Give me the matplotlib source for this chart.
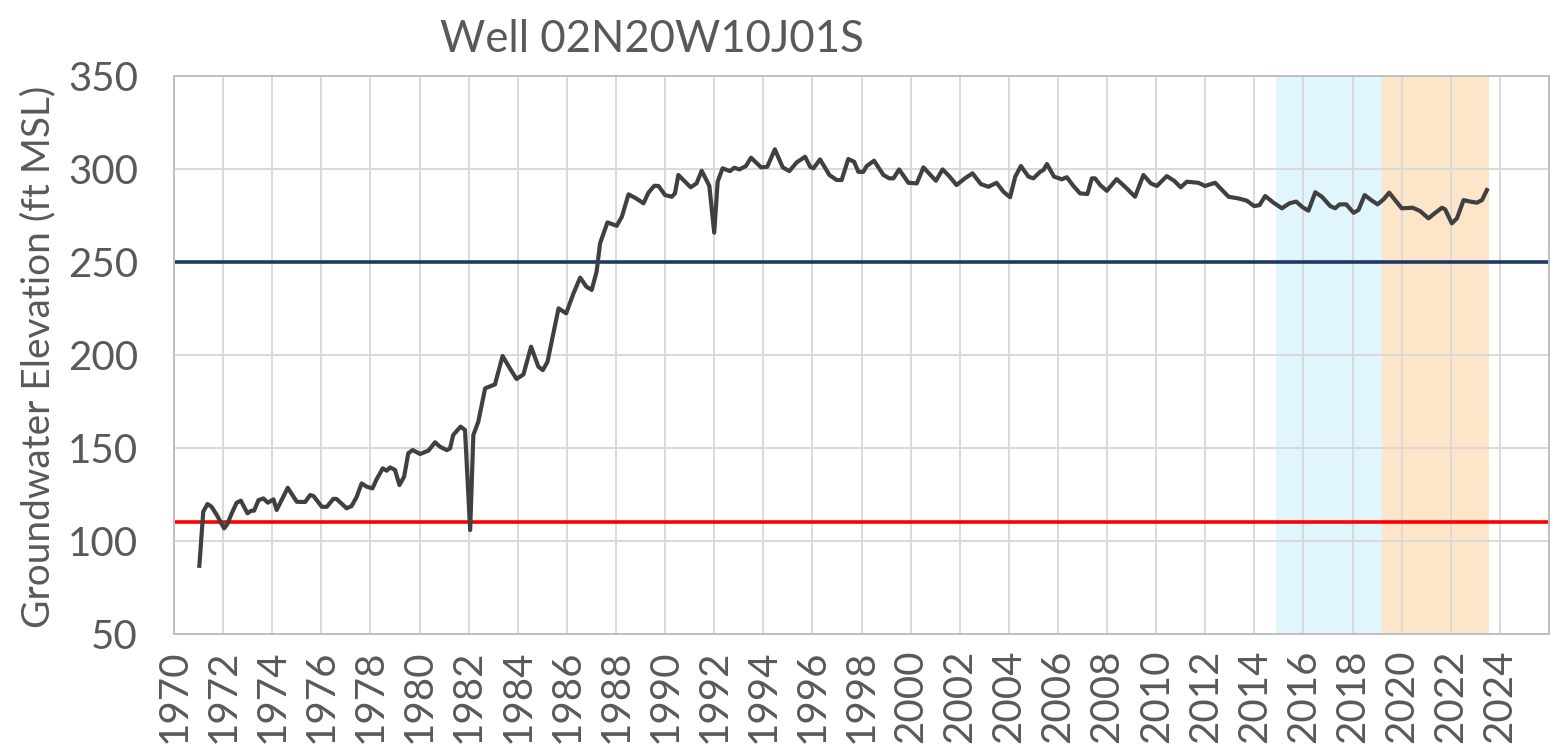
import matplotlib
matplotlib.use('Agg')
import matplotlib.pyplot as plt
import numpy as np

titulo = 'Well 02N20W10J01S'
etiqueta_y = 'Groundwater Elevation (ft MSL)'

# fecha decimal de cada medicion
fechas = [
    1971.03, 1971.19, 1971.36, 1971.53, 1971.74, 1972.04, 1972.17, 1972.35, 1972.55, 1972.72,
    1972.99, 1973.14, 1973.26, 1973.44, 1973.64, 1973.82, 1974.05, 1974.18, 1974.45, 1974.63,
    1975.00, 1975.34, 1975.54, 1975.68, 1976.02, 1976.22, 1976.49, 1976.62, 1977.03, 1977.23,
    1977.44, 1977.64, 1977.85, 1978.08, 1978.25, 1978.50, 1978.66, 1978.80, 1979.00, 1979.18,
    1979.37, 1979.54, 1979.72, 1980.02, 1980.36, 1980.63, 1980.83, 1981.11, 1981.24, 1981.37,
    1981.67, 1981.85, 1982.06, 1982.19, 1982.39, 1982.67, 1982.84, 1983.07, 1983.38, 1983.68,
    1983.95, 1984.23, 1984.54, 1984.84, 1985.02, 1985.21, 1985.45, 1985.66, 1985.97, 1986.27,
    1986.54, 1986.79, 1987.01, 1987.21, 1987.35, 1987.65, 1988.03, 1988.24, 1988.51, 1988.82,
    1989.12, 1989.32, 1989.56, 1989.73, 1990.00, 1990.27, 1990.40, 1990.54, 1990.81, 1991.04,
    1991.28, 1991.49, 1991.80, 1992.00, 1992.14, 1992.34, 1992.64, 1992.82, 1993.02, 1993.29,
    1993.50, 1993.91, 1994.16, 1994.47, 1994.79, 1995.06, 1995.36, 1995.70, 1995.91, 1996.04,
    1996.31, 1996.69, 1996.99, 1997.19, 1997.46, 1997.70, 1997.87, 1998.07, 1998.21, 1998.51,
    1998.89, 1999.13, 1999.30, 1999.53, 1999.91, 2000.25, 2000.52, 2001.03, 2001.30, 2001.57,
    2001.87, 2002.21, 2002.52, 2002.86, 2003.17, 2003.50, 2003.78, 2004.05, 2004.26, 2004.49,
    2004.80, 2005.00, 2005.27, 2005.41, 2005.55, 2005.84, 2006.16, 2006.36, 2006.63, 2006.90,
    2007.20, 2007.38, 2007.51, 2007.72, 2007.99, 2008.39, 2008.80, 2009.14, 2009.48, 2009.78,
    2010.03, 2010.43, 2010.73, 2011.00, 2011.25, 2011.72, 2011.99, 2012.40, 2012.95, 2013.35,
    2013.69, 2013.99, 2014.21, 2014.44, 2014.78, 2015.12, 2015.43, 2015.70, 2015.97, 2016.20,
    2016.48, 2016.75, 2017.09, 2017.29, 2017.47, 2017.74, 2018.04, 2018.24, 2018.49, 2018.79,
    2019.02, 2019.26, 2019.49, 2019.78, 2020.00, 2020.45, 2020.75, 2021.09, 2021.34, 2021.64,
    2021.77, 2022.04, 2022.25, 2022.52, 2022.79, 2023.06, 2023.27, 2023.47,
]

elevacion = [
    86.7, 115.8, 119.9, 118.4, 114.0, 106.8, 109.1, 114.9, 120.6, 121.7,
    114.9, 116.3, 116.3, 122.0, 122.9, 120.6, 122.4, 116.7, 123.8, 128.6,
    121.1, 121.0, 124.7, 124.2, 118.4, 118.4, 122.7, 122.6, 117.6, 118.8,
    123.8, 131.0, 129.2, 128.3, 133.2, 139.1, 137.8, 139.6, 138.2, 130.1,
    134.6, 147.2, 148.9, 146.8, 148.6, 153.1, 150.7, 148.9, 149.8, 157.0,
    161.5, 159.7, 105.9, 157.0, 164.1, 182.1, 183.0, 184.2, 199.5, 192.8,
    187.1, 189.6, 204.5, 193.7, 191.9, 196.4, 211.7, 225.1, 222.4, 233.2,
    241.6, 236.8, 235.0, 244.8, 260.0, 271.3, 269.5, 274.4, 286.4, 284.2,
    281.6, 287.3, 291.0, 290.9, 286.0, 285.1, 286.9, 296.8, 293.2, 290.2,
    292.3, 299.1, 291.0, 265.8, 293.2, 300.4, 298.9, 300.7, 299.8, 301.6,
    306.1, 300.9, 301.2, 310.6, 300.9, 298.9, 303.6, 306.6, 301.2, 300.4,
    305.2, 296.8, 294.1, 294.1, 305.4, 303.9, 298.5, 298.5, 301.6, 304.5,
    296.8, 295.0, 295.0, 299.8, 292.6, 292.3, 300.9, 293.7, 299.8, 296.2,
    291.4, 295.0, 297.7, 291.9, 290.5, 292.6, 287.8, 284.8, 295.9, 301.6,
    295.9, 295.0, 298.5, 299.5, 302.7, 295.9, 294.5, 295.6, 290.9, 286.9,
    286.6, 295.0, 295.0, 291.4, 288.3, 294.6, 289.6, 285.1, 296.8, 292.3,
    290.9, 296.2, 293.7, 290.2, 293.2, 292.6, 290.9, 292.6, 285.1, 284.2,
    283.0, 280.1, 280.6, 285.5, 281.9, 278.9, 281.6, 282.5, 279.4, 277.6,
    287.5, 285.1, 280.1, 278.9, 281.0, 281.0, 276.5, 278.0, 286.0, 283.0,
    281.0, 283.7, 287.3, 282.5, 278.9, 279.2, 277.4, 273.5, 276.2, 279.2,
    278.3, 270.8, 273.5, 283.3, 282.5, 281.9, 283.3, 288.7,
]

# niveles de referencia y periodos sombreados
umbral_alto = 250
umbral_bajo = 110
periodo_azul = (2014.9, 2019.2)
periodo_naranja = (2019.2, 2023.55)

anios_ticks = list(range(1970, 2025, 2))
valores_y = [50, 100, 150, 200, 250, 300, 350]

gris_texto = '#595959'


def graficar():
    plt.rcParams['font.family'] = ['Lato', 'DejaVu Sans']

    fig = plt.figure(figsize=(15.68, 7.53), dpi=100)
    ax = fig.add_axes([0.111, 0.158, 0.8769, 0.741])

    ax.axvspan(*periodo_azul, color='#E1F5FD', lw=0, zorder=0.2)
    ax.axvspan(*periodo_naranja, color='#FDE5C9', lw=0, zorder=0.2)

    ax.axhline(umbral_alto, color='#1F3864', lw=2.6, zorder=2)
    ax.axhline(umbral_bajo, color='#FF0000', lw=2.6, zorder=2)

    ax.plot(fechas, elevacion, color='#404040', lw=3.0, zorder=3)

    ax.set_xlim(1970, 2026)
    ax.set_ylim(50, 350)
    ax.set_xticks(anios_ticks)
    ax.set_xticklabels([str(a) for a in anios_ticks], rotation=90)
    ax.set_yticks(valores_y)

    ax.set_axisbelow(True)
    ax.grid(True, color='#D9D9D9', lw=1.4)
    for lado in ax.spines.values():
        lado.set_color('#BFBFBF')
        lado.set_linewidth(1.4)

    ax.tick_params(axis='both', length=0, labelsize=29, colors=gris_texto)
    ax.tick_params(axis='y', pad=26)
    ax.tick_params(axis='x', pad=11)

    fig.text(652 / 1568, 1 - 40 / 753, titulo, ha='center', va='center',
             fontsize=31.5, color=gris_texto)
    fig.text(38 / 1568, 1 - 357 / 753, etiqueta_y, ha='center', va='center',
             rotation=90, fontsize=28, color=gris_texto)

    fig.savefig('out.png', dpi=100)


if __name__ == "__main__":
    graficar()
